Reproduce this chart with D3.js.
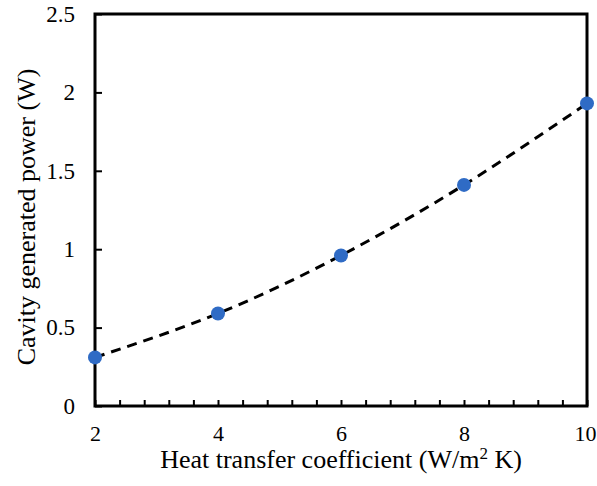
<!DOCTYPE html>
<html>
<head>
<meta charset="utf-8">
<script src="https://cdn.jsdelivr.net/npm/d3@7"></script>
<style>
  html, body { margin: 0; padding: 0; background: #fff; }
  svg text { font-family: "Liberation Serif", "Times New Roman", serif; fill: #000; }
</style>
</head>
<body>
<svg id="chart" width="597" height="486"></svg>
<script>
// Data
const hValues = [2, 4, 6, 8, 10];          // heat transfer coefficient (W/m² K)
const powerValues = [0.31, 0.59, 0.96, 1.41, 1.93]; // cavity generated power (W)
const xTickValues = [2, 4, 6, 8, 10];
const yTickValues = [0, 0.5, 1, 1.5, 2, 2.5];
const yTickLabels = ["0", "0.5", "1", "1.5", "2", "2.5"];

(function () {
const svg = d3.select("#chart");
const mLeft = 95, mRight = 587, mTop = 14, mBottom = 406;
const serif = '"Liberation Serif", "Times New Roman", serif';

const x = d3.scaleLinear().domain([2, 10]).range([mLeft, mRight]);
const y = d3.scaleLinear().domain([0, 2.5]).range([mBottom, mTop]);

// minor x ticks (inward)
const minorX = d3.range(2, 10.0001, 0.4);
svg.append("g").attr("transform", `translate(0,${mBottom})`)
  .call(d3.axisBottom(x).tickValues(minorX).tickSize(-6).tickFormat(""))
  .call(g => g.select(".domain").remove())
  .call(g => g.selectAll("line").attr("stroke", "#000").attr("stroke-width", 2));

// x axis labels
svg.append("g").attr("transform", `translate(0,${mBottom})`)
  .call(d3.axisBottom(x).tickValues(xTickValues).tickSize(0).tickPadding(19).tickFormat(d3.format("d")))
  .call(g => g.attr("font-family", serif))
  .call(g => g.select(".domain").remove())
  .call(g => g.selectAll("text").style("font-size", "22px").style("font-family", serif)
    .attr("dx", d => d === 10 ? -2 : 0));

// y axis (inward ticks)
svg.append("g").attr("transform", `translate(${mLeft},0)`)
  .call(d3.axisLeft(y).tickValues(yTickValues).tickSize(-7).tickPadding(20)
    .tickFormat((d, i) => yTickLabels[i]))
  .call(g => g.attr("font-family", serif))
  .call(g => g.select(".domain").remove())
  .call(g => g.selectAll("line").attr("stroke", "#000").attr("stroke-width", 2))
  .call(g => g.selectAll("text").style("font-size", "23px").style("font-family", serif));

// frame
svg.append("rect")
  .attr("x", mLeft).attr("y", mTop)
  .attr("width", mRight - mLeft).attr("height", mBottom - mTop)
  .attr("fill", "none").attr("stroke", "#000").attr("stroke-width", 3);

// dashed trend curve through the points
const pts = hValues.map((h, i) => [h, powerValues[i]]);
svg.append("path")
  .datum(pts)
  .attr("d", d3.line().x(d => x(d[0])).y(d => y(d[1])).curve(d3.curveNatural))
  .attr("fill", "none").attr("stroke", "#000").attr("stroke-width", 3)
  .attr("stroke-dasharray", "10,7");

// markers
svg.append("g").selectAll("circle")
  .data(pts).join("circle")
  .attr("cx", d => x(d[0])).attr("cy", d => y(d[1]))
  .attr("r", 7).attr("fill", "#2F6BC5");

// axis titles
const xt = svg.append("text")
  .attr("x", 341).attr("y", 468)
  .attr("text-anchor", "middle").style("font-size", "26px").style("font-family", serif);
xt.append("tspan").text("Heat transfer coefficient (W/m");
xt.append("tspan").attr("dy", -9).style("font-size", "17px").text("2");
xt.append("tspan").attr("dy", 9).text(" K)");

svg.append("text")
  .attr("transform", "translate(35,217) rotate(-90)")
  .attr("text-anchor", "middle").style("font-size", "26px").style("font-family", serif)
  .text("Cavity generated power (W)");
})();
</script>
</body>
</html>
